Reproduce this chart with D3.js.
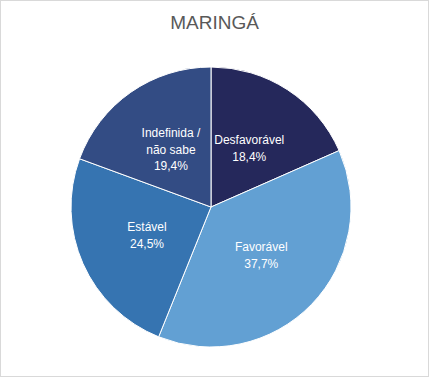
<!DOCTYPE html>
<html>
<head>
<meta charset="utf-8">
<script src="https://cdn.jsdelivr.net/npm/d3@7"></script>
<style>
  body { margin: 0; background: #fff; }
  svg { display: block; font-family: "Liberation Sans", Arial, sans-serif; }
</style>
</head>
<body>
<div id="chart"></div>
<script>
let w = 429;
let h = 377;

let categories = ["Desfavorável", "Favorável", "Estável", "Indefinida / não sabe"];
let labelLines = [["Desfavorável"], ["Favorável"], ["Estável"], ["Indefinida /", "não sabe"]];
let values = [18.4, 37.7, 24.5, 19.4];
let colors = ["#25285b", "#62a0d3", "#3674b1", "#334c84"];

let cx = 211, cy = 207, r = 140;

let svg = d3.select("#chart").append("svg")
  .attr("width", w)
  .attr("height", h);

// outer frame
svg.append("rect")
  .attr("x", 0.5).attr("y", 0.5)
  .attr("width", w - 1).attr("height", h - 1)
  .attr("fill", "#fff")
  .attr("stroke", "#d9d9d9");

svg.append("text")
  .attr("x", w / 2)
  .attr("y", 29)
  .attr("text-anchor", "middle")
  .attr("font-size", 19)
  .attr("fill", "#595959")
  .text("MARINGÁ");

let data = categories.map((c, i) => ({ name: c, lines: labelLines[i], value: values[i], color: colors[i] }));

let pie = d3.pie().sort(null).value(d => d.value);
let arc = d3.arc().innerRadius(0).outerRadius(r);
let labelArc = d3.arc().innerRadius(r * 0.5).outerRadius(r * 0.5);

let g = svg.append("g").attr("transform", `translate(${cx},${cy})`);
let arcs = pie(data);

g.selectAll(".slice").data(arcs).enter()
  .append("path")
  .attr("class", "slice")
  .attr("d", arc)
  .attr("fill", d => d.data.color)
  .attr("stroke", "#fff")
  .attr("stroke-width", 1);

let fmt = v => v.toFixed(1).replace(".", ",") + "%";

let labels = g.selectAll(".lbl").data(arcs).enter()
  .append("text")
  .attr("class", "lbl")
  .attr("text-anchor", "middle")
  .attr("font-size", 12)
  .attr("fill", "#fff")
  .attr("transform", d => {
    let c = labelArc.centroid(d);
    return `translate(${c[0]},${c[1]})`;
  });

labels.each(function(d) {
  let lines = d.data.lines.concat([fmt(d.data.value)]);
  let t = d3.select(this);
  let n = lines.length;
  lines.forEach((s, i) => {
    t.append("tspan")
      .attr("x", 0)
      .attr("y", (i - (n - 1) / 2) * 16.5 + 4)
      .text(s);
  });
});
</script>
</body>
</html>
